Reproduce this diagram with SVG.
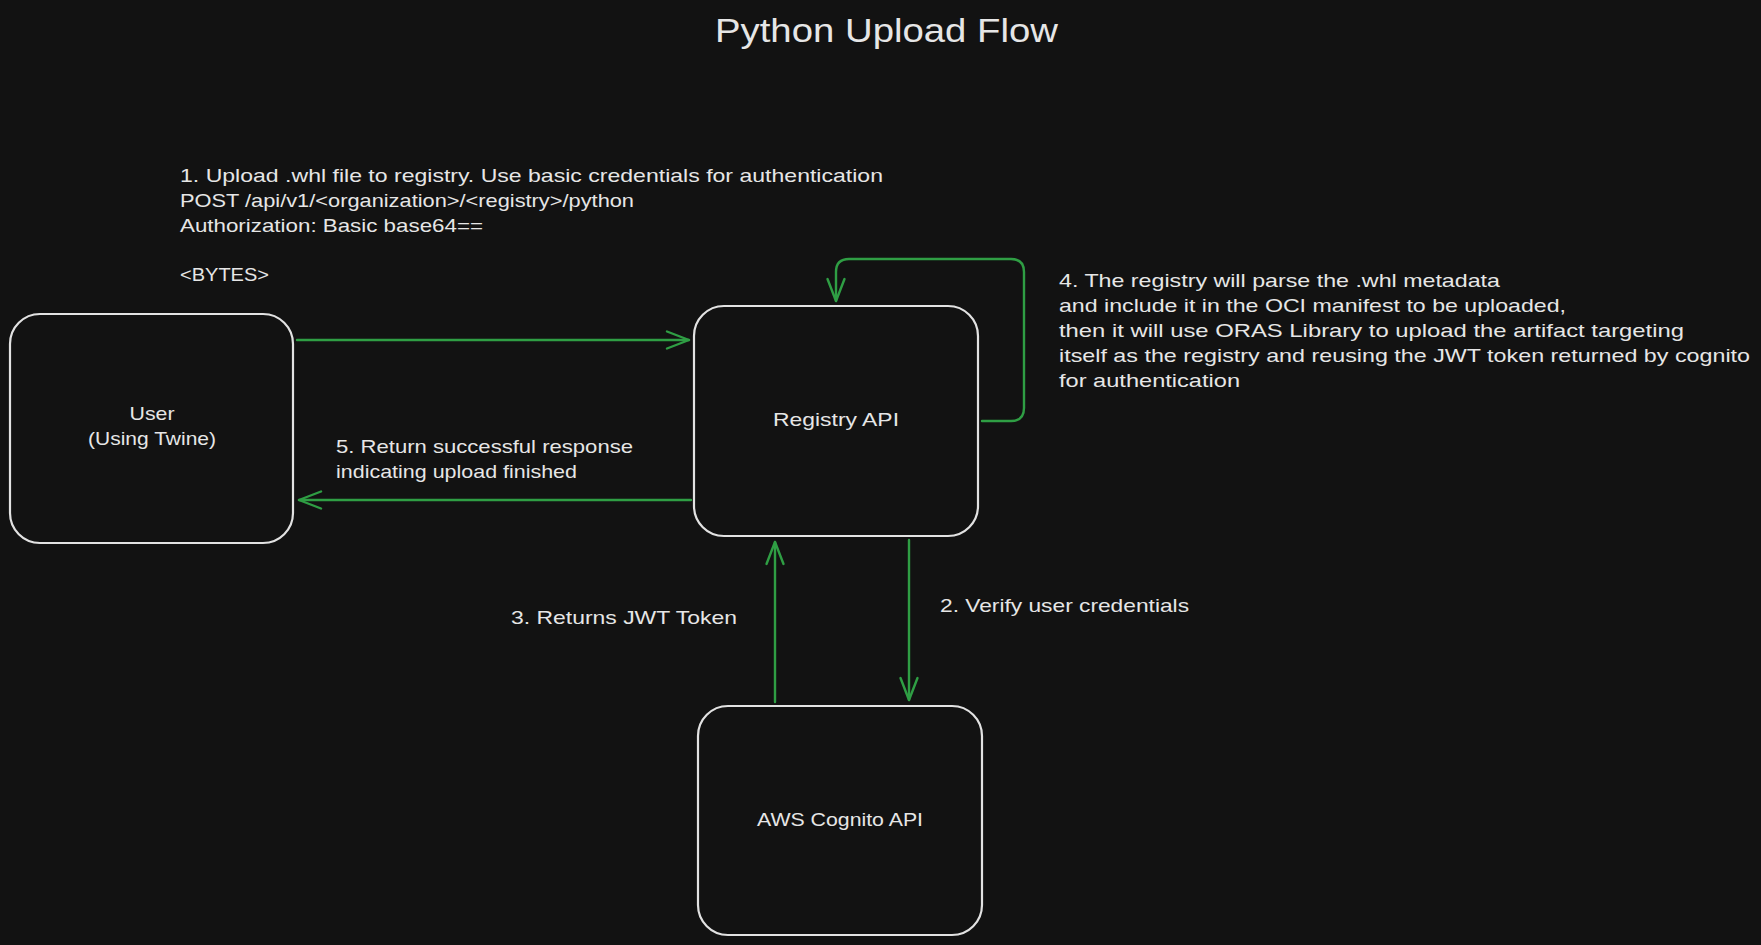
<svg xmlns="http://www.w3.org/2000/svg" width="1761" height="945" viewBox="0 0 1761 945">
<defs>
<style>
.bg{fill:#121212}
.box{fill:#121212;stroke:#e2e2e2;stroke-width:2.2}
.conn{fill:none;stroke:#2f9e44;stroke-width:2.4;stroke-linecap:round;stroke-linejoin:round}
.t{fill:#e6e6e6;font-family:"Liberation Sans","DejaVu Sans",sans-serif;font-size:19px}
.title{fill:#e6e6e6;font-family:"Liberation Sans","DejaVu Sans",sans-serif;font-size:34px}
.c{text-anchor:middle}
</style>
<marker id="ah" markerUnits="userSpaceOnUse" markerWidth="40" markerHeight="40" viewBox="-30 -15 40 30" refX="0" refY="0" orient="auto">
<path d="M-22,-8.5 L0,0 L-22,8.5" fill="none" stroke="#2f9e44" stroke-width="2.4" stroke-linecap="round" stroke-linejoin="round"/>
</marker>
</defs>
<rect class="bg" x="0" y="0" width="1761" height="945"/>

<g id="title">
<text class="title" x="715" y="42" textLength="343" lengthAdjust="spacingAndGlyphs">Python Upload Flow</text>
</g>

<g id="connectors">
<path id="c1" class="conn" d="M297,340 L689,340" marker-end="url(#ah)"/>
<path id="c5" class="conn" d="M691,500 L299,500" marker-end="url(#ah)"/>
<path id="c2" class="conn" d="M909,540 L909,700" marker-end="url(#ah)"/>
<path id="c3" class="conn" d="M775,702 L775,542" marker-end="url(#ah)"/>
<path id="c4" class="conn" d="M982,421 L1011,421 Q1024,421 1024,408 L1024,272 Q1024,259 1011,259 L849,259 Q836,259 836,272 L836,301" marker-end="url(#ah)"/>
</g>

<g id="user">
<rect class="box" x="10" y="314" width="283" height="229" rx="30" ry="30"/>
<text class="t c" x="152" y="420" textLength="45" lengthAdjust="spacingAndGlyphs">User</text>
<text class="t c" x="152" y="445" textLength="128" lengthAdjust="spacingAndGlyphs">(Using Twine)</text>
</g>

<g id="registry">
<rect class="box" x="694" y="306" width="284" height="230" rx="30" ry="30"/>
<text class="t c" x="836" y="426" textLength="126" lengthAdjust="spacingAndGlyphs">Registry API</text>
</g>

<g id="cognito">
<rect class="box" x="698" y="706" width="284" height="229" rx="30" ry="30"/>
<text class="t c" x="840" y="826" textLength="166" lengthAdjust="spacingAndGlyphs">AWS Cognito API</text>
</g>

<g id="label1">
<text class="t" x="180" y="182" textLength="703" lengthAdjust="spacingAndGlyphs">1. Upload .whl file to registry. Use basic credentials for authentication</text>
<text class="t" x="180" y="207" textLength="454" lengthAdjust="spacingAndGlyphs">POST /api/v1/&lt;organization&gt;/&lt;registry&gt;/python</text>
<text class="t" x="180" y="232" textLength="303" lengthAdjust="spacingAndGlyphs">Authorization: Basic base64==</text>
<text class="t" x="180" y="281" textLength="89" lengthAdjust="spacingAndGlyphs">&lt;BYTES&gt;</text>
</g>

<g id="label2">
<text class="t" x="940" y="612" textLength="249" lengthAdjust="spacingAndGlyphs">2. Verify user credentials</text>
</g>

<g id="label3">
<text class="t" x="511" y="624" textLength="226" lengthAdjust="spacingAndGlyphs">3. Returns JWT Token</text>
</g>

<g id="label4">
<text class="t" x="1059" y="287" textLength="441" lengthAdjust="spacingAndGlyphs">4. The registry will parse the .whl metadata</text>
<text class="t" x="1059" y="312" textLength="507" lengthAdjust="spacingAndGlyphs">and include it in the OCI manifest to be uploaded,</text>
<text class="t" x="1059" y="337" textLength="625" lengthAdjust="spacingAndGlyphs">then it will use ORAS Library to upload the artifact targeting</text>
<text class="t" x="1059" y="362" textLength="691" lengthAdjust="spacingAndGlyphs">itself as the registry and reusing the JWT token returned by cognito</text>
<text class="t" x="1059" y="387" textLength="181" lengthAdjust="spacingAndGlyphs">for authentication</text>
</g>

<g id="label5">
<text class="t" x="336" y="453" textLength="297" lengthAdjust="spacingAndGlyphs">5. Return successful response</text>
<text class="t" x="336" y="478" textLength="241" lengthAdjust="spacingAndGlyphs">indicating upload finished</text>
</g>
</svg>
